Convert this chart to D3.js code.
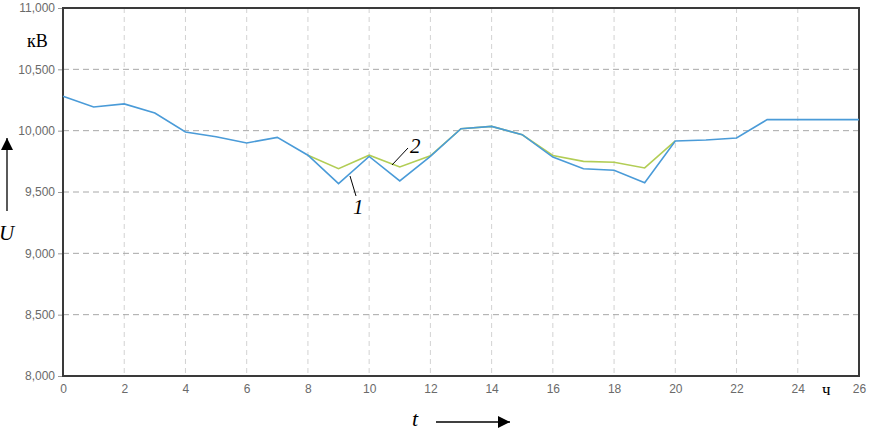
<!DOCTYPE html>
<html>
<head>
<meta charset="utf-8">
<script src="https://cdn.jsdelivr.net/npm/d3@7"></script>
<style>
  body { margin: 0; background: #fff; }
  svg { display: block; }
</style>
</head>
<body>
<svg id="chart" width="874" height="431"></svg>
<script>
// data
const hours = [0, 1, 2, 3, 4, 5, 6, 7, 8, 9, 10, 11, 12, 13, 14, 15, 16, 17, 18, 19, 20, 21, 22, 23, 24, 25, 26];
const u1 = [10280, 10193, 10218, 10144, 9989, 9950, 9900, 9945, 9800, 9568, 9790, 9590, 9790,
  10016, 10035, 9967, 9785, 9690, 9677, 9576, 9916, 9924, 9940, 10090, 10090, 10090, 10090];
const u2 = [null, null, null, null, null, null, null, null, 9800, 9690, 9800, 9704, 9795,
  10016, 10035, 9967, 9798, 9750, 9742, 9696, 9916, null, null, null, null, null, null];
const xTicks = [0, 2, 4, 6, 8, 10, 12, 14, 16, 18, 20, 22, 24, 26];
const yTicks = [8000, 8500, 9000, 9500, 10000, 10500, 11000];

const svg = d3.select("#chart");
const m = { left: 63, right: 859, top: 8, bottom: 376 };

const x = d3.scaleLinear().domain([0, 26]).range([m.left, m.right]);
const y = d3.scaleLinear().domain([8000, 11000]).range([m.bottom, m.top]);

// grid
svg.append("g").selectAll("line").data(xTicks.slice(1, -1)).enter().append("line")
  .attr("x1", d => x(d)).attr("x2", d => x(d))
  .attr("y1", m.top).attr("y2", m.bottom)
  .attr("stroke", "#d2d2d2").attr("stroke-dasharray", "5,4");

svg.append("g").selectAll("line").data(yTicks.slice(1, -1)).enter().append("line")
  .attr("x1", m.left).attr("x2", m.right)
  .attr("y1", d => y(d)).attr("y2", d => y(d))
  .attr("stroke", "#a8a8a8").attr("stroke-dasharray", "6,4");

// axes
const fmt = d3.format(",");
const yAxis = svg.append("g").attr("transform", `translate(${m.left},0)`)
  .call(d3.axisLeft(y).tickValues(yTicks).tickFormat(fmt).tickSize(5).tickPadding(3));
const xAxis = svg.append("g").attr("transform", `translate(0,${m.bottom})`)
  .call(d3.axisBottom(x).tickValues(xTicks).tickSize(0).tickPadding(8));

[yAxis, xAxis].forEach(a => {
  a.select(".domain").remove();
  a.selectAll("line").attr("stroke", "#999");
  a.selectAll("text").attr("fill", "#6a6a6a")
    .style("font-family", "'Liberation Sans', Arial, sans-serif").style("font-size", "12px");
});

// frame
svg.append("rect")
  .attr("x", m.left).attr("y", m.top)
  .attr("width", m.right - m.left).attr("height", m.bottom - m.top)
  .attr("fill", "none").attr("stroke", "#3a3a3a").attr("stroke-width", 2);

// lines
const line = d3.line().defined(d => d[1] != null).x(d => x(d[0])).y(d => y(d[1]));

svg.append("path").datum(hours.map((h, i) => [h, u2[i]]))
  .attr("d", line).attr("fill", "none")
  .attr("stroke", "#b2cd55").attr("stroke-width", 1.6);

svg.append("path").datum(hours.map((h, i) => [h, u1[i]]))
  .attr("d", line).attr("fill", "none")
  .attr("stroke", "#4a9bd8").attr("stroke-width", 1.6);

// annotations
const serif = "'Liberation Serif', 'Times New Roman', serif";
const addText = (tx, ty, s, size, italic) => svg.append("text")
  .attr("x", tx).attr("y", ty).text(s)
  .style("font-family", serif).style("font-size", size + "px")
  .style("font-style", italic ? "italic" : "normal").attr("fill", "#000");

addText(27, 47, "кВ", 18, false);
addText(-1, 240, "U", 21, true);
addText(412, 426, "t", 22, true);
addText(822, 395, "ч", 17, false);
addText(353, 214, "1", 21, true);
addText(410, 153, "2", 21, true);

// leader lines
svg.append("line").attr("x1", 350).attr("y1", 176).attr("x2", 356).attr("y2", 196)
  .attr("stroke", "#000").attr("stroke-width", 1);
svg.append("line").attr("x1", 392).attr("y1", 165).attr("x2", 408).attr("y2", 148)
  .attr("stroke", "#000").attr("stroke-width", 1);

// arrows
svg.append("defs").append("marker")
  .attr("id", "head").attr("viewBox", "0 0 10 10")
  .attr("refX", 10).attr("refY", 5)
  .attr("markerUnits", "userSpaceOnUse")
  .attr("markerWidth", 17).attr("markerHeight", 12)
  .attr("orient", "auto")
  .append("path").attr("d", "M0,0L10,5L0,10Z").attr("fill", "#000");

svg.append("line").attr("x1", 7).attr("y1", 211).attr("x2", 7).attr("y2", 138)
  .attr("stroke", "#000").attr("stroke-width", 1.3).attr("marker-end", "url(#head)");
svg.append("line").attr("x1", 436).attr("y1", 422).attr("x2", 510).attr("y2", 422)
  .attr("stroke", "#000").attr("stroke-width", 1.3).attr("marker-end", "url(#head)");
</script>
</body>
</html>
